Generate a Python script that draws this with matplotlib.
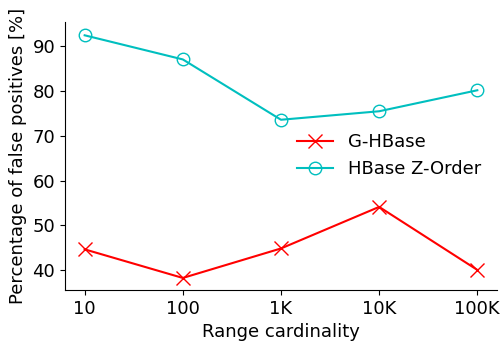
import matplotlib
matplotlib.use("Agg")
import matplotlib.pyplot as plt

cardinality = ["10", "100", "1K", "10K", "100K"]
g_hbase = [44.6, 38.2, 44.8, 54.1, 40.0]
hbase_zorder = [92.5, 87.1, 73.6, 75.5, 80.2]

plt.rcParams["font.size"] = 13

fig, ax = plt.subplots(figsize=(5.04, 3.42), dpi=100)
fig.subplots_adjust(left=0.129, right=0.986, bottom=0.152, top=0.936)

x = range(len(cardinality))
ax.plot(x, g_hbase, color="red", marker="x", markersize=10, lw=1.5, label="G-HBase")
ax.plot(x, hbase_zorder, color="c", marker="o", markersize=9, mfc="none", lw=1.5,
        label="HBase Z-Order")

ax.set_xticks(list(x))
ax.set_xticklabels(cardinality)
ax.set_xlim(-0.2, 4.2)
ax.set_ylim(35.5, 95.5)
ax.set_yticks([40, 50, 60, 70, 80, 90])
ax.set_xlabel("Range cardinality")
ax.set_ylabel("Percentage of false positives [%]")
ax.spines["top"].set_visible(False)
ax.spines["right"].set_visible(False)

ax.legend(frameon=False, loc="upper left", bbox_to_anchor=(0.5, 0.645))

fig.savefig("out.png")
